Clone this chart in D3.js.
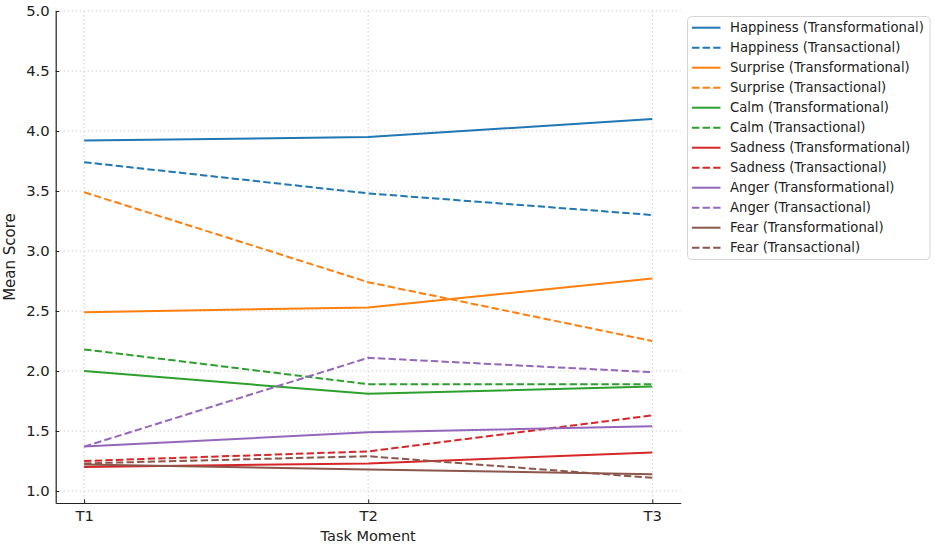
<!DOCTYPE html>
<html>
<head>
<meta charset="utf-8">
<script src="https://cdn.jsdelivr.net/npm/d3@7"></script>
<style>
  body { margin: 0; background: #fff; }
  text { font-family: "DejaVu Sans", sans-serif; fill: #222; }
</style>
</head>
<body>
<svg id="chart" width="935" height="547"></svg>
<script>
// Task moments on the x axis
const moments = ["T1", "T2", "T3"];
const yTicks = [1.0, 1.5, 2.0, 2.5, 3.0, 3.5, 4.0, 4.5, 5.0];

// Mean scores per emotion, per group
const happinessTransformational = [3.92, 3.95, 4.10];
const happinessTransactional = [3.74, 3.48, 3.30];
const surpriseTransformational = [2.49, 2.53, 2.77];
const surpriseTransactional = [3.49, 2.74, 2.25];
const calmTransformational = [2.00, 1.81, 1.87];
const calmTransactional = [2.18, 1.89, 1.89];
const sadnessTransformational = [1.20, 1.23, 1.32];
const sadnessTransactional = [1.25, 1.33, 1.63];
const angerTransformational = [1.37, 1.49, 1.54];
const angerTransactional = [1.37, 2.11, 1.99];
const fearTransformational = [1.22, 1.18, 1.14];
const fearTransactional = [1.23, 1.29, 1.11];

const series = [
  { label: "Happiness (Transformational)", values: happinessTransformational, color: "#1f77b4", dashed: false },
  { label: "Happiness (Transactional)", values: happinessTransactional, color: "#1f77b4", dashed: true },
  { label: "Surprise (Transformational)", values: surpriseTransformational, color: "#ff7f0e", dashed: false },
  { label: "Surprise (Transactional)", values: surpriseTransactional, color: "#ff7f0e", dashed: true },
  { label: "Calm (Transformational)", values: calmTransformational, color: "#2ca02c", dashed: false },
  { label: "Calm (Transactional)", values: calmTransactional, color: "#2ca02c", dashed: true },
  { label: "Sadness (Transformational)", values: sadnessTransformational, color: "#d62728", dashed: false },
  { label: "Sadness (Transactional)", values: sadnessTransactional, color: "#d62728", dashed: true },
  { label: "Anger (Transformational)", values: angerTransformational, color: "#9467bd", dashed: false },
  { label: "Anger (Transactional)", values: angerTransactional, color: "#9467bd", dashed: true },
  { label: "Fear (Transformational)", values: fearTransformational, color: "#8c564b", dashed: false },
  { label: "Fear (Transactional)", values: fearTransactional, color: "#8c564b", dashed: true },
];

const svg = d3.select("#chart");
const plot = { left: 55.7, right: 680.7, top: 11, bottom: 503 };
const dash = "7.4,3.2";

const x = d3.scaleLinear().domain([-0.1, 2.1]).range([plot.left, plot.right]);
const y = d3.scaleLinear().domain([0.9, 5.0]).range([plot.bottom, plot.top]);

// Grid (dotted)
const grid = svg.append("g").attr("class", "grid");
grid.selectAll(".gy")
  .data(yTicks)
  .enter()
  .append("line")
  .attr("x1", plot.left)
  .attr("x2", plot.right)
  .attr("y1", (d) => y(d))
  .attr("y2", (d) => y(d))
  .attr("stroke", "#cfcfcf")
  .attr("stroke-width", 1)
  .attr("stroke-dasharray", "1.5,2.5");
grid.selectAll(".gx")
  .data(moments)
  .enter()
  .append("line")
  .attr("x1", (d, i) => x(i))
  .attr("x2", (d, i) => x(i))
  .attr("y1", plot.top)
  .attr("y2", plot.bottom)
  .attr("stroke", "#cfcfcf")
  .attr("stroke-width", 1)
  .attr("stroke-dasharray", "1.5,2.5");

// Lines
const line = d3.line()
  .x((d, i) => x(i))
  .y((d) => y(d));

svg.append("g")
  .selectAll("path")
  .data(series)
  .enter()
  .append("path")
  .attr("d", (d) => line(d.values))
  .attr("fill", "none")
  .attr("stroke", (d) => d.color)
  .attr("stroke-width", 2)
  .attr("stroke-dasharray", (d) => (d.dashed ? dash : null));

// Axes (ticks point inward, matplotlib style)
const yAxis = d3.axisLeft(y)
  .tickValues(yTicks)
  .tickFormat(d3.format(".1f"))
  .tickSizeInner(-3.5)
  .tickSizeOuter(0)
  .tickPadding(6);
const xAxis = d3.axisBottom(x)
  .tickValues([0, 1, 2])
  .tickFormat((d) => moments[d])
  .tickSizeInner(-3.5)
  .tickSizeOuter(0)
  .tickPadding(7.5);

const gy = svg.append("g")
  .attr("transform", `translate(${plot.left},0)`)
  .call(yAxis);
const gx = svg.append("g")
  .attr("transform", `translate(0,${plot.bottom})`)
  .call(xAxis);

[gx, gy].forEach((g) => {
  g.select(".domain").attr("stroke", "#222").attr("stroke-width", 1.2);
  g.selectAll(".tick line").attr("stroke", "#222");
  g.selectAll(".tick text").attr("font-size", 14.8).attr("fill", "#222")
    .attr("font-family", "DejaVu Sans, sans-serif");
});

// Axis labels
svg.append("text")
  .attr("x", (plot.left + plot.right) / 2)
  .attr("y", 540.5)
  .attr("text-anchor", "middle")
  .attr("font-size", 14.5)
  .text("Task Moment");
svg.append("text")
  .attr("transform", `translate(15,${(plot.top + plot.bottom) / 2}) rotate(-90)`)
  .attr("text-anchor", "middle")
  .attr("font-size", 15)
  .text("Mean Score");

// Legend
const legend = svg.append("g")
  .attr("class", "legend-group")
  .attr("transform", "translate(687.5,16.5)");
legend.append("rect")
  .attr("width", 242.5)
  .attr("height", 243)
  .attr("rx", 4)
  .attr("ry", 4)
  .attr("fill", "rgba(255,255,255,0.8)")
  .attr("stroke", "#d5d5d5");

const entries = legend.selectAll(".legend-entry")
  .data(series)
  .enter()
  .append("g")
  .attr("class", "legend-entry")
  .attr("transform", (d, i) => `translate(0, ${11.2 + i * 20})`);
entries.append("line")
  .attr("x1", 4.5)
  .attr("x2", 33)
  .attr("stroke", (d) => d.color)
  .attr("stroke-width", 2)
  .attr("stroke-dasharray", (d) => (d.dashed ? dash : null));
entries.append("text")
  .attr("x", 42.5)
  .attr("y", 4.7)
  .attr("font-size", 13.2)
  .text((d) => d.label);
</script>
</body>
</html>
